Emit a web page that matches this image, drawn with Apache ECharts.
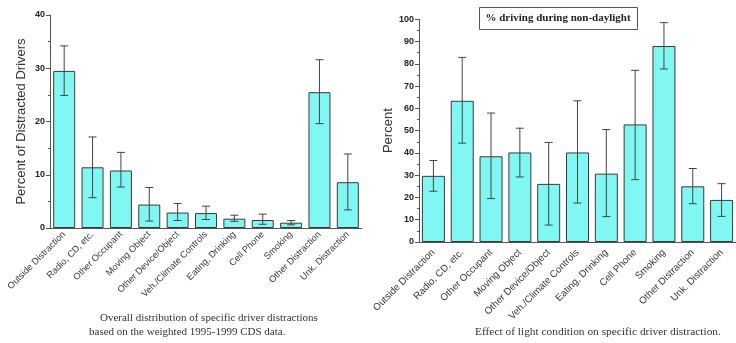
<!DOCTYPE html>
<html><head><meta charset="utf-8">
<script src="https://cdn.jsdelivr.net/npm/echarts@6/dist/echarts.min.js"></script>
<style>html,body{margin:0;padding:0;background:#fff}#c{width:736px;height:343px}</style>
</head><body><div id="c"></div>
<script>
const categories = ['Outside Distraction','Radio, CD, etc.','Other Occupant','Moving Object','Other Device/Object','Veh./Climate Controls','Eating, Drinking','Cell Phone','Smoking','Other Distraction','Unk. Distraction'];
// Left chart: overall distribution
const overallValues = [29.5, 11.4, 10.8, 4.4, 2.9, 2.8, 1.75, 1.5, 1.0, 25.5, 8.6];
const overallErrLow = [24.9, 5.7, 7.7, 1.3, 1.4, 1.6, 1.25, 0.7, 0.6, 19.6, 3.4];
const overallErrHigh = [34.2, 17.1, 14.2, 7.6, 4.6, 4.1, 2.4, 2.6, 1.4, 31.6, 13.9];
// Right chart: % driving during non-daylight
const nightValues = [29.7, 63.4, 38.5, 40.2, 26.1, 40.2, 30.7, 52.8, 88.0, 25.0, 18.9];
const nightErrLow = [22.8, 44.4, 19.5, 29.2, 7.6, 17.5, 11.4, 28.0, 77.7, 17.2, 11.5];
const nightErrHigh = [36.6, 82.9, 57.9, 51.1, 44.7, 63.4, 50.5, 77.1, 98.5, 33.0, 26.2];
const leftTicks = {min: 0, max: 40, interval: 10};
const rightTicks = {min: 0, max: 100, interval: 10};

const chart = echarts.init(document.getElementById('c'), null, {renderer: 'canvas'});
const fill = '#80F7F2', edge = '#3a3a3a', errColor = '#444';

function errSeries(xi, yi, lows, highs) {
  return {
    type: 'custom', xAxisIndex: xi, yAxisIndex: yi, z: 5,
    data: lows.map((l, i) => [i, l, highs[i]]),
    renderItem: function (params, api) {
      const x = api.value(0);
      const lo = api.coord([x, api.value(1)]);
      const hi = api.coord([x, api.value(2)]);
      const w = 4;
      const st = {stroke: errColor, lineWidth: 1};
      return {type: 'group', children: [
        {type: 'line', shape: {x1: lo[0], y1: lo[1], x2: hi[0], y2: hi[1]}, style: st},
        {type: 'line', shape: {x1: lo[0]-w, y1: lo[1], x2: lo[0]+w, y2: lo[1]}, style: st},
        {type: 'line', shape: {x1: hi[0]-w, y1: hi[1], x2: hi[0]+w, y2: hi[1]}, style: st}
      ]};
    }
  };
}

function xAxisFor(grid, fontSize, margin) {
  return {
    gridIndex: grid, type: 'category', data: categories,
    axisLine: {lineStyle: {color: '#555', width: 1}},
    axisTick: {show: false},
    axisLabel: {rotate: 45, fontSize: fontSize, fontFamily: 'Liberation Sans', color: '#3a3a3a', margin: margin, interval: 0}
  };
}
const yAxisCommon = {
  type: 'value', splitLine: {show: false},
  axisLine: {show: true, lineStyle: {color: '#555'}},
  axisTick: {show: true, length: 4, lineStyle: {color: '#555'}},
  minorTick: {show: true, splitNumber: 2, length: 2, lineStyle: {color: '#555'}},
  axisLabel: {fontSize: 9, fontWeight: 'bold', fontFamily: 'Liberation Sans', color: '#222', margin: 5},
  nameLocation: 'middle',
  nameTextStyle: {fontSize: 13, fontFamily: 'Liberation Sans', color: '#333'}
};

chart.setOption({
  animation: false,
  grid: [
    {left: 50, top: 15, width: 312, height: 213},
    {left: 419, top: 19.3, width: 328, height: 222.7}
  ],
  xAxis: [xAxisFor(0, 9.2, 5), xAxisFor(1, 9.8, 9)],
  yAxis: [
    Object.assign({gridIndex: 0, name: 'Percent of Distracted Drivers', nameGap: 22}, yAxisCommon, leftTicks),
    Object.assign({gridIndex: 1, name: 'Percent', nameGap: 24}, yAxisCommon, rightTicks)
  ],
  series: [
    {type: 'bar', xAxisIndex: 0, yAxisIndex: 0, data: overallValues, barWidth: 22,
     itemStyle: {color: fill, borderColor: edge, borderWidth: 1}},
    errSeries(0, 0, overallErrLow, overallErrHigh),
    {type: 'bar', xAxisIndex: 1, yAxisIndex: 1, data: nightValues, barWidth: 23,
     itemStyle: {color: fill, borderColor: edge, borderWidth: 1}},
    errSeries(1, 1, nightErrLow, nightErrHigh)
  ],
  graphic: [
    {type: 'rect', shape: {x: 479.5, y: 7.5, width: 158, height: 22}, style: {fill: '#fff', stroke: '#555', lineWidth: 1}, z: 10},
    {type: 'text', x: 558, y: 18.5, z: 11, style: {text: '% driving during non-daylight', font: 'bold 11px "Liberation Serif"', fill: '#222', align: 'center', verticalAlign: 'middle'}},
    {type: 'text', x: 100, y: 318, style: {text: 'Overall distribution of specific driver distractions', font: '11px "Liberation Serif"', fill: '#333', verticalAlign: 'middle'}},
    {type: 'text', x: 89, y: 332, style: {text: 'based on the weighted 1995-1999 CDS data.', font: '11px "Liberation Serif"', fill: '#333', verticalAlign: 'middle'}},
    {type: 'text', x: 475, y: 332, style: {text: 'Effect of light condition on specific driver distraction.', font: '11.4px "Liberation Serif"', fill: '#333', verticalAlign: 'middle'}}
  ]
});
</script></body></html>
